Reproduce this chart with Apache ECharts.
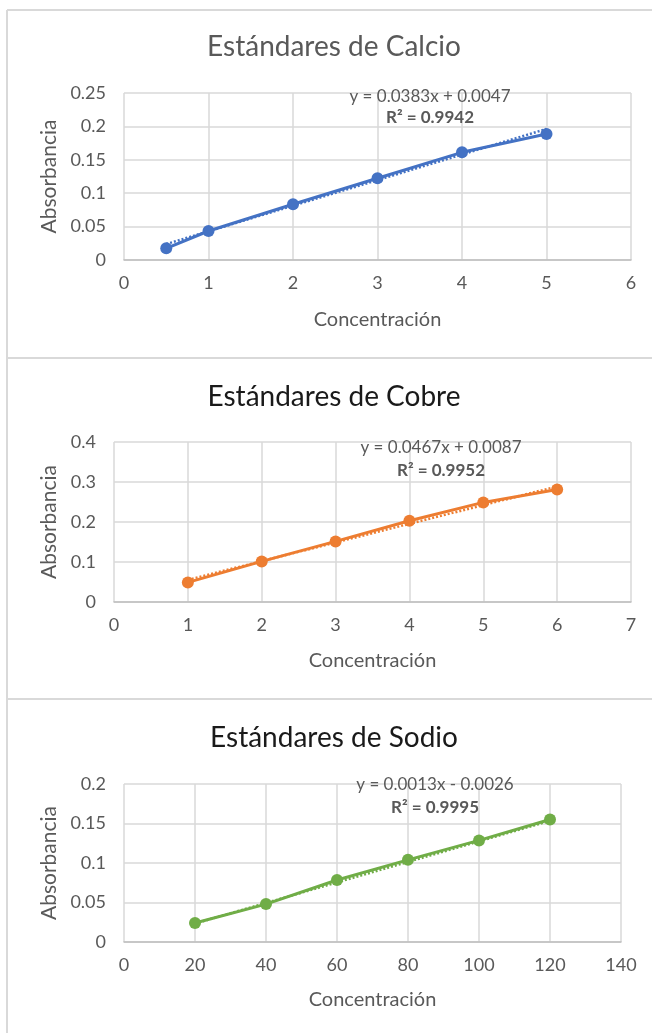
<!DOCTYPE html>
<html><head><meta charset="utf-8">
<script src="https://cdn.jsdelivr.net/npm/echarts@6/dist/echarts.min.js"></script>
<style>html,body{margin:0;padding:0;background:#fff}#c{width:652px;height:1033px}</style>
</head><body><div id="c"></div>
<script>
// Data
const titles = ['Estándares de Calcio', 'Estándares de Cobre', 'Estándares de Sodio'];
const calcioX = [0.5, 1, 2, 3, 4, 5];
const calcioY = [0.0175, 0.0434, 0.0834, 0.1223, 0.1612, 0.1886];
const cobreX = [1, 2, 3, 4, 5, 6];
const cobreY = [0.049, 0.1015, 0.1515, 0.203, 0.249, 0.281];
const sodioX = [20, 40, 60, 80, 100, 120];
const sodioY = [0.024, 0.048, 0.0785, 0.104, 0.1286, 0.155];
const slopes = [0.0383, 0.0467, 0.0013];
const intercepts = [0.0047, 0.0087, -0.0026];
const eqLabels = ['y = 0.0383x + 0.0047', 'y = 0.0467x + 0.0087', 'y = 0.0013x - 0.0026'];
const r2Labels = ['R² = 0.9942', 'R² = 0.9952', 'R² = 0.9995'];
const xMax = [6, 7, 140], xInt = [1, 1, 20];
const yMax = [0.25, 0.4, 0.2], yInt = [0.05, 0.1, 0.05];
const colors = ['#4472C4', '#ED7D31', '#70AD47'];

const xs = [calcioX, cobreX, sodioX], ys = [calcioY, cobreY, sodioY];
const grids = [
  {left: 124, right: 21, top: 93, height: 167},
  {left: 114, right: 21, top: 442, height: 160},
  {left: 124, right: 31, top: 784, height: 158}
];
const titleY = [47, 397, 738];
const titleColor = ['#595959', '#1a1a1a', '#1a1a1a'];
const eqPos = [[430, 97, 118], [441, 448, 471], [435, 785, 808]];
const yNameGap = [63, 53, 63];
const xNameGap = [50, 49, 48];
const FONT = 'Lato, "Open Sans", sans-serif';

const xAxis = [], yAxis = [], series = [], graphic = [];
for (let i = 0; i < 3; i++) {
  xAxis.push({
    type: 'value', gridIndex: i, min: 0, max: xMax[i], interval: xInt[i],
    name: 'Concentración', nameLocation: 'middle', nameGap: xNameGap[i],
    nameTextStyle: {color: '#595959', fontSize: 20, fontFamily: FONT},
    axisLine: {show: true, lineStyle: {color: '#bfbfbf', width: 1.5}},
    axisTick: {show: false},
    axisLabel: {color: '#595959', fontSize: 18, fontFamily: FONT, margin: 14},
    splitLine: {show: true, lineStyle: {color: '#d9d9d9', width: 1.5}}
  });
  yAxis.push({
    type: 'value', gridIndex: i, min: 0, max: yMax[i], interval: yInt[i],
    name: 'Absorbancia', nameLocation: 'middle', nameGap: yNameGap[i], nameRotate: 90,
    nameTextStyle: {color: '#595959', fontSize: 21, fontFamily: FONT},
    axisLine: {show: false}, axisTick: {show: false},
    axisLabel: {color: '#595959', fontSize: 18, fontFamily: FONT, margin: 18},
    splitLine: {show: true, lineStyle: {color: '#d9d9d9', width: 1.5}}
  });
  const pts = xs[i].map((x, k) => [x, ys[i][k]]);
  const x0 = Math.min(...xs[i]), x1 = Math.max(...xs[i]);
  series.push({
    type: 'line', xAxisIndex: i, yAxisIndex: i, silent: true, symbol: 'none', z: 2,
    data: [[x0, slopes[i] * x0 + intercepts[i]], [x1, slopes[i] * x1 + intercepts[i]]],
    lineStyle: {color: colors[i], width: 2.5, type: [2, 2]}
  });
  series.push({
    type: 'line', xAxisIndex: i, yAxisIndex: i, data: pts, z: 3,
    symbol: 'circle', symbolSize: 12,
    itemStyle: {color: colors[i]},
    lineStyle: {color: colors[i], width: 3}
  });
  graphic.push({type: 'text', x: 334, y: titleY[i], style: {
    text: titles[i], fill: titleColor[i], font: '28px ' + FONT, textAlign: 'center', textVerticalAlign: 'middle'}});
  graphic.push({type: 'text', x: eqPos[i][0], y: eqPos[i][1], z: 10, style: {
    text: eqLabels[i], fill: '#595959', font: '17px ' + FONT, textAlign: 'center', textVerticalAlign: 'middle'}});
  graphic.push({type: 'text', x: eqPos[i][0], y: eqPos[i][2], z: 10, style: {
    text: r2Labels[i], fill: '#595959', font: 'bold 17px ' + FONT, textAlign: 'center', textVerticalAlign: 'middle'}});
}
// panel borders
const bc = '#d9d9d9';
graphic.push({type: 'line', shape: {x1: 7, y1: 10, x2: 652, y2: 10}, style: {stroke: bc, lineWidth: 2}});
graphic.push({type: 'line', shape: {x1: 7, y1: 10, x2: 7, y2: 1033}, style: {stroke: bc, lineWidth: 2}});
graphic.push({type: 'line', shape: {x1: 7, y1: 358, x2: 652, y2: 358}, style: {stroke: bc, lineWidth: 2}});
graphic.push({type: 'line', shape: {x1: 7, y1: 699, x2: 652, y2: 699}, style: {stroke: bc, lineWidth: 2}});

const chart = echarts.init(document.getElementById('c'), null, {renderer: 'canvas'});
chart.setOption({
  animation: false,
  backgroundColor: '#fff',
  grid: grids.map(g => Object.assign({containLabel: false}, g)),
  xAxis, yAxis, series, graphic
});
</script></body></html>
